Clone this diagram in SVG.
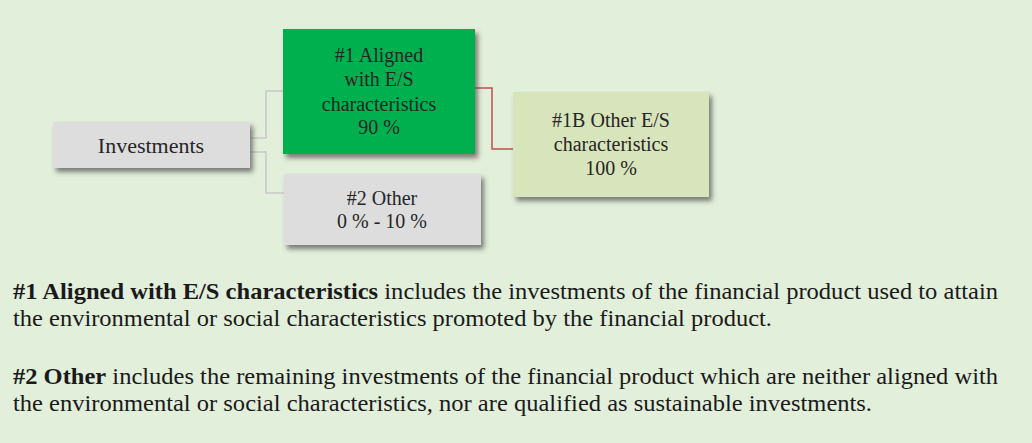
<svg xmlns="http://www.w3.org/2000/svg" width="1032" height="443" viewBox="0 0 1032 443">
<style>
.t{font-family:"Liberation Serif","Times New Roman",serif;fill:#262626;text-anchor:middle}
.b{font-size:20px}
.p{font-family:"Liberation Serif","Times New Roman",serif;fill:#1a1a1a;font-size:23px}
.c{fill:none;stroke-width:1.5}
</style>
<defs>
<filter id="sh" x="-10%" y="-10%" width="130%" height="140%">
<feDropShadow dx="3" dy="4" stdDeviation="2.5" flood-color="#4d4d4d" flood-opacity="0.7"/>
</filter>
</defs>
<rect x="0" y="0" width="1032" height="443" fill="#E2EFDA"/>
<g id="connectors">
<path class="c" stroke="#C8C8C8" d="M250 138 H266 V91 H283"/>
<path class="c" stroke="#C8C8C8" d="M250 152 H266 V193 H284"/>
<path class="c" stroke="#C0504D" d="M475 88 H492 V149 H513"/>
</g>
<g id="investments">
<rect x="53" y="122" width="197" height="46" fill="#DDDDDE" filter="url(#sh)"/>
<text class="t" x="151" y="153" font-size="22">Investments</text>
</g>
<g id="aligned">
<rect x="283" y="29" width="192" height="125" fill="#00B050" filter="url(#sh)"/>
<text class="t b" x="379" y="62">#1 Aligned</text>
<text class="t b" x="379" y="86">with E/S</text>
<text class="t b" x="379" y="111">characteristics</text>
<text class="t b" x="379" y="134">90 %</text>
</g>
<g id="other">
<rect x="284" y="174" width="197" height="71" fill="#DDDDDE" filter="url(#sh)"/>
<text class="t b" x="382" y="205">#2 Other</text>
<text class="t b" x="382" y="228">0 % - 10 %</text>
</g>
<g id="other-es">
<rect x="513" y="92" width="196" height="105" fill="#D8E4BC" filter="url(#sh)"/>
<text class="t b" x="611" y="127">#1B Other E/S</text>
<text class="t b" x="611" y="151">characteristics</text>
<text class="t b" x="611" y="175">100 %</text>
</g>
<text class="p" x="13" y="299" textLength="985" lengthAdjust="spacingAndGlyphs"><tspan font-weight="bold">#1 Aligned with E/S characteristics</tspan> includes the investments of the financial product used to attain</text>
<text class="p" x="13" y="326" textLength="759" lengthAdjust="spacingAndGlyphs">the environmental or social characteristics promoted by the financial product.</text>
<text class="p" x="13" y="384" textLength="985" lengthAdjust="spacingAndGlyphs"><tspan font-weight="bold">#2 Other</tspan> includes the remaining investments of the financial product which are neither aligned with</text>
<text class="p" x="13" y="411" textLength="859" lengthAdjust="spacingAndGlyphs">the environmental or social characteristics, nor are qualified as sustainable investments.</text>
</svg>
